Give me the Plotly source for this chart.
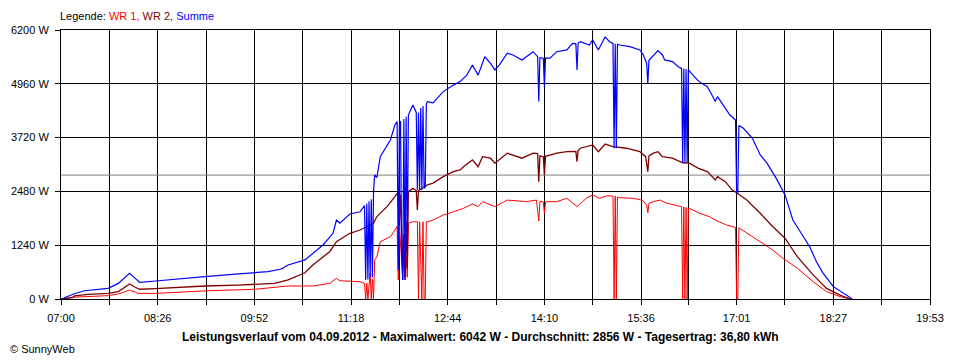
import plotly.graph_objects as go

# ---------------- data ----------------
tick_labels = ["07:00", "08:26", "09:52", "11:18", "12:44", "14:10",
               "15:36", "17:01", "18:27", "19:53"]
y_ticks = [0, 1240, 2480, 3720, 4960, 6200]
average_w = 2856

t_wr1 = ["07:00", "07:01", "07:10", "07:24", "07:42", "07:51", "08:01", "08:06", "08:08", "08:24",
         "09:11", "09:53", "10:22", "10:37", "10:44", "10:59", "11:05", "11:08", "11:26", "11:30",
         "11:31", "11:32", "11:33", "11:35", "11:36", "11:37", "11:38", "11:39", "11:41", "11:44",
         "11:53", "11:57", "11:59", "12:00", "12:01", "12:04", "12:05", "12:06", "12:07", "12:08",
         "12:09", "12:13", "12:17", "12:18", "12:19", "12:21", "12:22", "12:23", "12:24", "12:25",
         "12:26", "12:31", "12:40", "12:49", "12:58", "13:06", "13:11", "13:15", "13:26", "13:37",
         "13:54", "14:03", "14:05", "14:06", "14:09", "14:10", "14:11", "14:21", "14:30", "14:39",
         "14:48", "14:53", "14:59", "15:06", "15:11", "15:12", "15:13", "15:14", "15:15", "15:17",
         "15:29", "15:37", "15:41", "15:42", "15:43", "15:47", "15:53", "15:59", "16:08", "16:12",
         "16:13", "16:14", "16:15", "16:16", "16:17", "16:18", "16:19", "16:28", "16:37", "16:42",
         "16:52", "17:00", "17:01", "17:02", "17:03", "17:10", "17:22", "17:33", "17:42", "17:55",
         "18:09", "18:21", "18:33", "18:42"]
wr1 = [0, 0, 40, 55, 77, 115, 207, 160, 130, 130,
       190, 225, 300, 300, 300, 360, 475, 420, 400, 360,
       0, 360, 0, 600, 0, 450, 0, 900, 975, 1320,
       1435, 1590, 1670, 440, 1700, 440, 1100, 440, 1000, 500,
       1745, 1780, 1780, 0, 1780, 0, 1780, 0, 0, 1780,
       1780, 1820, 1935, 2010, 2090, 2190, 2130, 2245, 2130, 2280,
       2245, 2280, 1800, 2250, 2240, 1975, 2240, 2245, 2320, 2130,
       2335, 2400, 2320, 2380, 2370, 0, 2370, 0, 2350, 2335,
       2320, 2280, 2165, 1990, 2200, 2245, 2280, 2205, 2165, 2130,
       0, 2120, 0, 2110, 0, 2100, 2090, 1975, 1895, 1820,
       1705, 1650, 0, 0, 1640, 1515, 1320, 1130, 940, 710,
       400, 170, 55, 0]

t_wr2 = ["07:00", "07:01", "07:10", "07:12", "07:24", "07:42", "07:51", "07:57", "08:01", "08:06",
         "08:10", "08:24", "09:08", "09:37", "10:10", "10:22", "10:33", "10:37", "10:44", "10:59",
         "11:05", "11:17", "11:26", "11:38", "11:41", "11:50", "11:57", "11:59", "12:00", "12:01",
         "12:02", "12:04", "12:05", "12:06", "12:07", "12:08", "12:09", "12:13", "12:16", "12:17",
         "12:18", "12:26", "12:31", "12:40", "12:49", "12:55", "12:58", "13:06", "13:11", "13:15",
         "13:22", "13:26", "13:37", "13:42", "13:50", "14:00", "14:04", "14:05", "14:06", "14:09",
         "14:10", "14:11", "14:21", "14:30", "14:38", "14:39", "14:40", "14:42", "14:53", "14:58",
         "15:04", "15:11", "15:23", "15:35", "15:40", "15:42", "15:43", "15:47", "15:51", "15:55",
         "16:04", "16:13", "16:19", "16:27", "16:35", "16:42", "16:44", "16:51", "16:57", "17:01",
         "17:10", "17:22", "17:33", "17:44", "17:55", "18:09", "18:21", "18:33", "18:42"]
wr2 = [0, 0, 30, 70, 108, 130, 170, 270, 345, 270,
       225, 240, 300, 320, 360, 440, 553, 605, 785, 1090,
       1320, 1515, 1590, 1745, 1900, 2130, 2360, 2435, 2435, 1800,
       2400, 670, 1500, 500, 1800, 700, 2475, 2550, 2500, 2050,
       2500, 2630, 2670, 2820, 2935, 2975, 3050, 3205, 3050, 3280,
       3245, 3130, 3360, 3320, 3245, 3360, 3350, 2705, 3300, 3280,
       2860, 3290, 3360, 3395, 3400, 3165, 3420, 3475, 3550, 3395,
       3570, 3510, 3475, 3395, 3280, 2935, 3300, 3360, 3395, 3280,
       3245, 3140, 3130, 3010, 2935, 2745, 2820, 2705, 2510, 2450,
       2280, 1975, 1670, 1400, 975, 555, 245, 90, 0]

t_sum = ["07:00", "07:01", "07:04", "07:12", "07:21", "07:33", "07:42", "07:51", "07:57", "08:01",
         "08:06", "08:10", "08:24", "08:39", "09:08", "09:35", "09:53", "10:04", "10:15", "10:17",
         "10:22", "10:33", "10:37", "10:44", "10:53", "11:02", "11:05", "11:08", "11:17", "11:26",
         "11:30", "11:31", "11:32", "11:33", "11:34", "11:35", "11:36", "11:37", "11:38", "11:39",
         "11:41", "11:44", "11:50", "11:53", "11:57", "11:59", "12:00", "12:01", "12:02", "12:03",
         "12:04", "12:05", "12:06", "12:07", "12:08", "12:09", "12:13", "12:16", "12:17", "12:18",
         "12:19", "12:20", "12:21", "12:22", "12:23", "12:24", "12:25", "12:26", "12:31", "12:40",
         "12:49", "12:55", "13:01", "13:06", "13:11", "13:17", "13:22", "13:26", "13:30", "13:37",
         "13:42", "13:50", "13:54", "14:00", "14:04", "14:05", "14:06", "14:09", "14:10", "14:11",
         "14:15", "14:21", "14:30", "14:35", "14:38", "14:39", "14:40", "14:42", "14:50", "14:53",
         "14:58", "15:04", "15:08", "15:11", "15:12", "15:13", "15:14", "15:15", "15:17", "15:26",
         "15:35", "15:38", "15:41", "15:42", "15:43", "15:46", "15:51", "15:55", "15:57", "16:04",
         "16:09", "16:12", "16:13", "16:14", "16:15", "16:16", "16:17", "16:18", "16:26", "16:30",
         "16:35", "16:39", "16:42", "16:44", "16:49", "16:55", "17:00", "17:01", "17:02", "17:03",
         "17:07", "17:15", "17:22", "17:28", "17:37", "17:44", "17:51", "18:00", "18:06", "18:12",
         "18:18", "18:27", "18:36", "18:42", "18:44"]
summe = [0, 0, 40, 120, 190, 220, 245, 360, 500, 590,
         475, 385, 415, 455, 515, 575, 605, 630, 685, 705,
         785, 860, 900, 1050, 1245, 1515, 1820, 1745, 1960, 2010,
         2150, 440, 2200, 450, 2250, 500, 2300, 500, 2475, 2860,
         2800, 3280, 3550, 3665, 4010, 4090, 670, 4000, 4100, 1060,
         440, 4150, 440, 4200, 1060, 4240, 4470, 4300, 2510, 4290,
         2510, 4400, 2510, 4450, 2550, 2580, 4500, 4550, 4520, 4780,
         4930, 5010, 5160, 5395, 5160, 5585, 5430, 5280, 5395, 5665,
         5625, 5510, 5585, 5700, 5585, 4550, 5560, 5550, 4895, 5550,
         5550, 5700, 5740, 5890, 5880, 5280, 5900, 5930, 5855, 5970,
         5740, 6040, 5930, 5890, 3475, 5880, 3475, 5870, 5855, 5815,
         5740, 5625, 5430, 4970, 5500, 5585, 5725, 5625, 5510, 5470,
         5355, 5315, 3140, 5310, 3140, 5300, 3140, 5280, 5050, 4970,
         4895, 4700, 4550, 4665, 4470, 4240, 4125, 2450, 2450, 4000,
         3935, 3705, 3320, 3130, 2745, 2400, 1820, 1435, 1205, 860,
         590, 285, 130, 15, 0]


def minutes(hhmm):
    h, m = hhmm.split(":")
    return (int(h) - 7) * 60 + int(m)


x_wr1 = [minutes(t) for t in t_wr1]
x_wr2 = [minutes(t) for t in t_wr2]
x_sum = [minutes(t) for t in t_sum]

major = [minutes(t) for t in tick_labels]
tickvals, ticktext = [], []
for i, v in enumerate(major):
    tickvals.append(v)
    ticktext.append(tick_labels[i])
    if i < len(major) - 1:
        tickvals.append((v + major[i + 1]) / 2)
        ticktext.append("")

FONT = "Liberation Sans, Arial, sans-serif"

# page body has an 8px margin; plot area must land at x 61..930, y 30..299
PLOT_L, PLOT_T, PLOT_W, PLOT_H = 61, 30, 869, 269


def px(x):
    return (x - PLOT_L) / PLOT_W


def py(y):
    return (PLOT_T + PLOT_H - y) / PLOT_H


fig = go.Figure()
fig.add_trace(go.Scatter(x=[major[0], major[-1]], y=[average_w, average_w], mode="lines",
                         line=dict(color="#808080", width=1), hoverinfo="skip"))
fig.add_trace(go.Scatter(x=x_wr1, y=wr1, mode="lines", name="WR 1",
                         line=dict(color="#FF0000", width=1)))
fig.add_trace(go.Scatter(x=x_wr2, y=wr2, mode="lines", name="WR 2",
                         line=dict(color="#800000", width=1.3)))
fig.add_trace(go.Scatter(x=x_sum, y=summe, mode="lines", name="Summe",
                         line=dict(color="#0000FF", width=1.2)))

fig.update_layout(
    width=952, height=352,
    margin=dict(l=PLOT_L - 8, r=30, t=PLOT_T - 8, b=61, pad=0),
    paper_bgcolor="white", plot_bgcolor="white",
    showlegend=False,
    font=dict(family=FONT, size=11, color="black"),
    xaxis=dict(range=[major[0], major[-1]], tickvals=tickvals, ticktext=ticktext,
               showgrid=True, gridcolor="black", gridwidth=1,
               showline=True, linecolor="black", linewidth=1, mirror=True,
               ticks="outside", ticklen=5, tickcolor="black", zeroline=False,
               ticklabelstandoff=4, automargin=False,
               tickfont=dict(family=FONT, size=11, color="black")),
    yaxis=dict(range=[0, y_ticks[-1]], tickvals=y_ticks,
               ticktext=[f"{v} W" for v in y_ticks],
               showgrid=True, gridcolor="black", gridwidth=1,
               showline=True, linecolor="black", linewidth=1, mirror=True,
               ticks="outside", ticklen=5, tickcolor="black", zeroline=False,
               ticklabelstandoff=4, automargin=False,
               tickfont=dict(family=FONT, size=11, color="black")),
    annotations=[
        dict(xref="paper", yref="paper", x=px(58), y=py(16), xanchor="left", yanchor="middle",
             showarrow=False, font=dict(family=FONT, size=11, color="black"),
             text="Legende: <span style='color:#FF0000'>WR 1, </span>"
                  "<span style='color:#800000'>WR 2, </span>"
                  "<span style='color:#0000FF'>Summe</span>"),
        dict(xref="paper", yref="paper", x=px(480), y=py(337),
             xanchor="center", yanchor="middle", showarrow=False,
             font=dict(family=FONT, size=12, color="black"),
             text="<b>Leistungsverlauf vom 04.09.2012 - Maximalwert: 6042 W - "
                  "Durchschnitt: 2856 W - Tagesertrag: 36,80 kWh</b>"),
        dict(xref="paper", yref="paper", x=px(8), y=py(349),
             xanchor="left", yanchor="middle", showarrow=False,
             font=dict(family=FONT, size=11, color="black"),
             text="© SunnyWeb"),
    ],
)

fig.write_html("out.html")
